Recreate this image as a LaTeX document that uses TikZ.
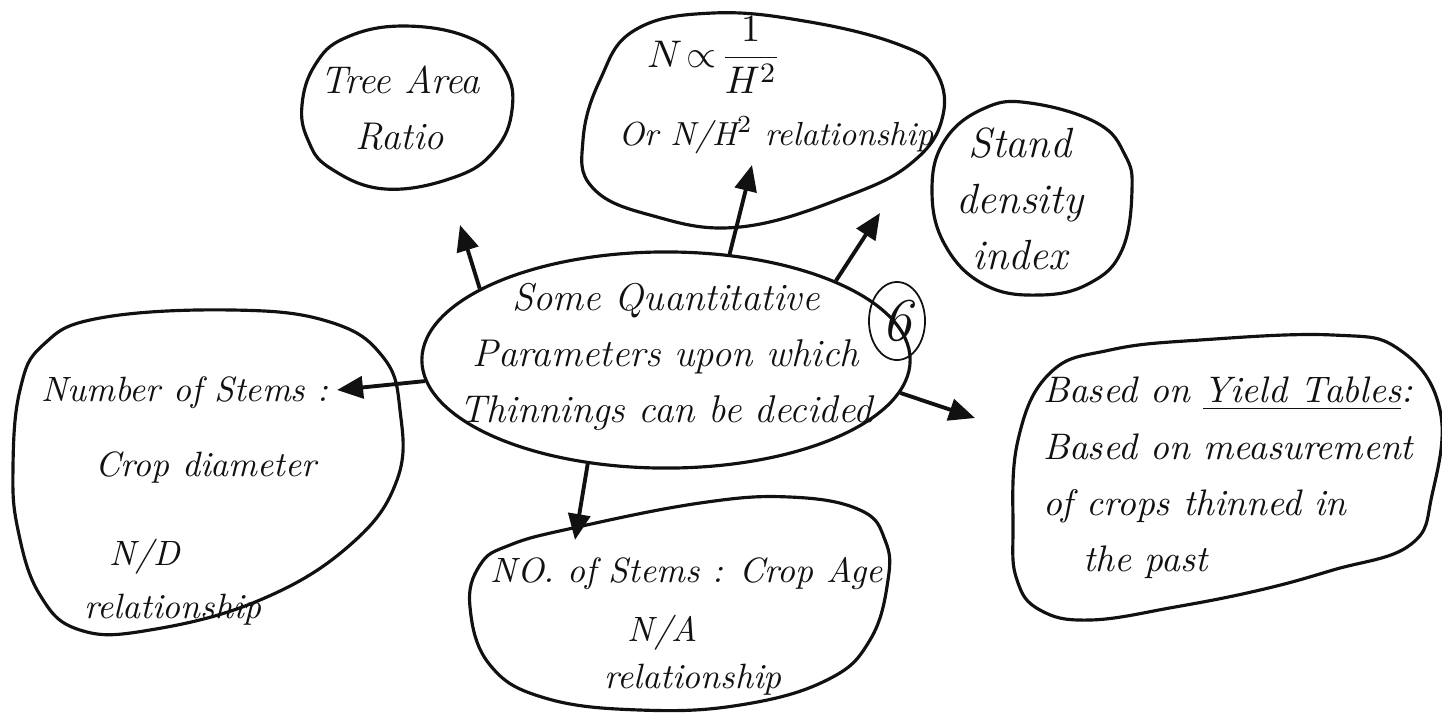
\documentclass[tikz,border=0pt]{standalone}
\usepackage{xcolor}
\usepackage{amsmath}
\usepackage{tikz}
\usetikzlibrary{positioning,shapes.geometric,arrows.meta}
\definecolor{notesInk}{HTML}{111111}

\begin{document}
\begin{tikzpicture}[x=0.01cm, y=-0.01cm, line width=0.9pt, color=notesInk,
  every node/.style={text=notesInk, font=\itshape\fontsize{11}{16}\selectfont, align=center, inner sep=1pt},
  small/.style={font=\itshape\fontsize{10}{16}\selectfont},
  blob/.style={draw=notesInk, line width=0.9pt},
  pointer/.style={-{Triangle[length=2.6mm,width=2.2mm]}, line width=1.1pt, draw=notesInk}]
\useasboundingbox[fill=white] (0,0) rectangle (1442,714);

% centre topic
\node[ellipse, draw, minimum width=4.88cm, minimum height=2.16cm, inner sep=0pt] (hub) at (666,360) {};
\node (hubText) at (666,357) {Some Quantitative\\Parameters upon which\\Thinnings can be decided};
\node[ellipse, draw, line width=0.5pt, minimum width=0.56cm, minimum height=0.78cm, inner sep=0pt, font=\itshape\LARGE] (pageMark) at (897,321) {6};

% outer topics
\draw[blob] plot[smooth cycle, tension=0.7] coordinates {(302,105) (315,65) (345,38) (403,26) (470,38) (505,70) (512,110) (495,150) (455,177) (385,189) (330,168) (308,140)};
\node (areaRatio) at (400,108) {Tree Area\\Ratio};

\draw[blob] plot[smooth cycle, tension=0.7] coordinates {(583,140) (600,80) (635,30) (713,13) (810,22) (900,45) (935,70) (943,115) (915,160) (850,195) (740,227) (650,215) (592,187)};
\node[font=\itshape\fontsize{11}{16}\selectfont] (propLaw) at (714,55) {$N\!\propto\!\dfrac{1}{H^2}$};
\node[font=\itshape\fontsize{9.5}{16}\selectfont] (propRel) at (776,135) {Or N/H$^2$ relationship};

\draw[blob] plot[smooth cycle, tension=0.7] coordinates {(932,190) (945,140) (985,108) (1030,103) (1097,123) (1125,155) (1132,190) (1122,250) (1090,283) (1040,295) (985,285) (945,245)};
\node[font=\itshape\fontsize{12}{16}\selectfont] (standIndex) at (1020,199) {Stand\\density\\index};

\draw[blob] plot[smooth cycle, tension=0.7] coordinates {(13,467) (20,390) (43,345) (100,318) (233,310) (330,322) (383,357) (400,410) (397,480) (350,545) (260,600) (150,630) (80,630) (40,595) (18,530)};
\node[small] (nsHead) at (185,393) {Number of Stems :};
\node[small] (nsDiam) at (206,467) {Crop diameter};
\node[small] (nsRatio) at (145,557) {N/D};
\node[small] (nsRel) at (173,610) {relationship};

\draw[blob] plot[smooth cycle, tension=0.7] coordinates {(470,607) (480,565) (510,545) (573,528) (700,503) (790,497) (860,510) (885,540) (888,580) (870,640) (827,680) (740,705) (640,710) (545,698) (490,665)};
\node[small] (naHead) at (687,573) {NO. of Stems : Crop Age};
\node[small] (naRatio) at (663,633) {N/A};
\node[small] (naRel) at (693,680) {relationship};

\draw[blob] plot[smooth cycle, tension=0.7] coordinates {(1013,530) (1018,440) (1050,373) (1110,350) (1200,340) (1333,335) (1400,350) (1440,410) (1432,495) (1410,545) (1333,570) (1260,590) (1175,607) (1090,620) (1040,610) (1017,580)};
\node[align=left, anchor=west, font=\itshape\fontsize{10.5}{16}\selectfont] (yieldText) at (1038,478) {Based on \underline{Yield Tables}:\\Based on measurement\\of crops thinned in\\\hspace*{4mm}the past};

% arrows out of the centre
\coordinate (tipArea) at (460,225);
\coordinate (tipProp) at (752,165);
\coordinate (tipStand) at (880,213);
\coordinate (tipDiam) at (337,390);
\coordinate (tipAge) at (575,540);
\coordinate (tipYield) at (975,418);
\draw[pointer] (hub.159) -- (tipArea);
\draw[pointer] (hub.59) -- (tipProp);
\draw[pointer] (hub.25) -- (tipStand);
\draw[pointer] (hub.185) -- (tipDiam);
\draw[pointer] (hub.233) -- (tipAge);
\draw[pointer] (hub.352) -- (tipYield);
\end{tikzpicture}
\end{document}
